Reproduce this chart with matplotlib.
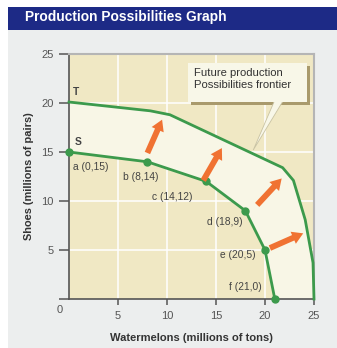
import matplotlib
matplotlib.use("Agg")
import matplotlib.pyplot as plt
from matplotlib.patches import Rectangle, Polygon, FancyArrowPatch

# ---- data ----
s_x = [0, 8, 14, 18, 20, 21]
s_y = [15, 14, 12, 9, 5, 0]
s_names = ["a", "b", "c", "d", "e", "f"]
t_x = [0, 8.3, 10.3, 21.8, 22.9, 24.1, 24.9, 25]
t_y = [20.1, 19.2, 18.8, 13.4, 12.1, 8.1, 3.7, 0]
arrow_start = [(8.0, 14.9), (13.7, 12.1), (19.2, 9.6), (20.5, 5.2)]
arrow_end = [(9.5, 18.3), (15.6, 15.4), (21.7, 12.3), (23.9, 6.7)]
x_ticks = [5, 10, 15, 20, 25]
y_ticks = [0, 5, 10, 15, 20, 25]
title = "Production Possibilities Graph"
xlabel = "Watermelons (millions of tons)"
ylabel = "Shoes (millions of pairs)"
callout = "Future production\nPossibilities frontier"

FONT = ["Liberation Sans", "DejaVu Sans"]
plt.rcParams["font.family"] = FONT

fig = plt.figure(figsize=(3.37, 3.48), dpi=100)
fig.patch.set_facecolor("white")

# panel background and title bar
fig.add_artist(Rectangle((8/337, 0), 1, 1 - 30/348, transform=fig.transFigure,
                         facecolor="#eceeee", edgecolor="none", zorder=0))
fig.add_artist(Rectangle((8/337, 1 - 30/348), 1, 23/348, transform=fig.transFigure,
                         facecolor="#1d2a86", edgecolor="none", zorder=0))
fig.text(25/337, 1 - 17.5/348, title, color="white", fontsize=9.9, fontweight="bold",
         va="center", ha="left", family=FONT)

ax = fig.add_axes([69/337, 1 - 299/348, 245/337, 245/348])
ax.set_xlim(0, 25)
ax.set_ylim(0, 25)
ax.set_facecolor("#f0e8c4")

# grid
for v in [5, 10, 15, 20]:
    ax.axvline(v, color="white", lw=1.1, zorder=1)
    ax.axhline(v, color="white", lw=1.1, zorder=1)

# band between S and T
poly = list(zip(t_x, t_y)) + list(zip(s_x[::-1], s_y[::-1]))
ax.add_patch(Polygon(poly, closed=True, facecolor="#f8f6e6", edgecolor="none", zorder=2))

green = "#3c9a4c"
ax.plot(t_x, t_y, color=green, lw=2.0, zorder=4, solid_joinstyle="round", clip_on=False)
ax.plot(s_x, s_y, color=green, lw=2.0, zorder=4, marker="o", markersize=5,
        solid_joinstyle="round", clip_on=False)

# arrows
for (x0, y0), (x1, y1) in zip(arrow_start, arrow_end):
    ax.add_patch(FancyArrowPatch((x0, y0), (x1, y1),
                                 arrowstyle="simple,head_width=0.9,head_length=0.75,tail_width=0.4",
                                 mutation_scale=10.5, color="#f07232", lw=0,
                                 shrinkA=0, shrinkB=0, zorder=5))

# point labels
lab_pos = [(0.4, 13.5), (5.5, 12.4), (8.5, 10.4), (14.1, 7.9), (15.4, 4.5), (16.3, 1.2)]
for n, x, y, (lx, ly) in zip(s_names, s_x, s_y, lab_pos):
    ax.text(lx, ly, f"{n} ({x},{y})", fontsize=7.4, color="#444444", va="center",
            ha="left", zorder=6)
ax.text(0.4, 21.1, "T", fontsize=7.4, color="#444444", va="center", fontweight="bold", zorder=6)
ax.text(0.6, 16.0, "S", fontsize=7.4, color="#444444", va="center", fontweight="bold", zorder=6)

# callout
ax.add_patch(Rectangle((12.4, 19.8), 12.2, 4.0, facecolor="#a99a6c", edgecolor="none", zorder=6))
ax.add_patch(Polygon([(21.0, 20.3), (21.9, 20.3), (18.8, 15.2)], closed=True,
                     facecolor="#f8f7e8", edgecolor="#c9c3a3", lw=0.6, zorder=6))
ax.add_patch(Rectangle((12.1, 20.1), 12.2, 4.0, facecolor="#f8f7e8", edgecolor="none", zorder=7))
ax.text(12.8, 22.45, callout, fontsize=8.1, color="#333333", va="center", ha="left",
        linespacing=1.2, zorder=8)

# spines and ticks
for sp in ["left", "bottom"]:
    ax.spines[sp].set_color("#555555")
    ax.spines[sp].set_linewidth(1.2)
for sp in ["top", "right"]:
    ax.spines[sp].set_color("#b5b5b5")
    ax.spines[sp].set_linewidth(1.5)

ax.set_xticks(x_ticks)
ax.set_xticklabels([str(v) for v in x_ticks])
ax.set_yticks(y_ticks)
ax.set_yticklabels(["" if v == 0 else str(v) for v in y_ticks])
ax.tick_params(axis="y", length=7, width=1.1, color="#555555", labelcolor="#555555",
               labelsize=8, pad=4)
ax.tick_params(axis="x", length=4.5, width=1.1, color="#555555", labelcolor="#555555",
               labelsize=8, pad=4)
ax.text(-1.0, -1.1, "0", fontsize=8, color="#555555", ha="center", va="center",
        clip_on=False)

ax.set_xlabel(xlabel, fontsize=8, fontweight="bold", color="#333333", labelpad=9)
ax.set_ylabel(ylabel, fontsize=7.9, fontweight="bold", color="#333333", labelpad=5)

fig.savefig("out.png", dpi=100)
